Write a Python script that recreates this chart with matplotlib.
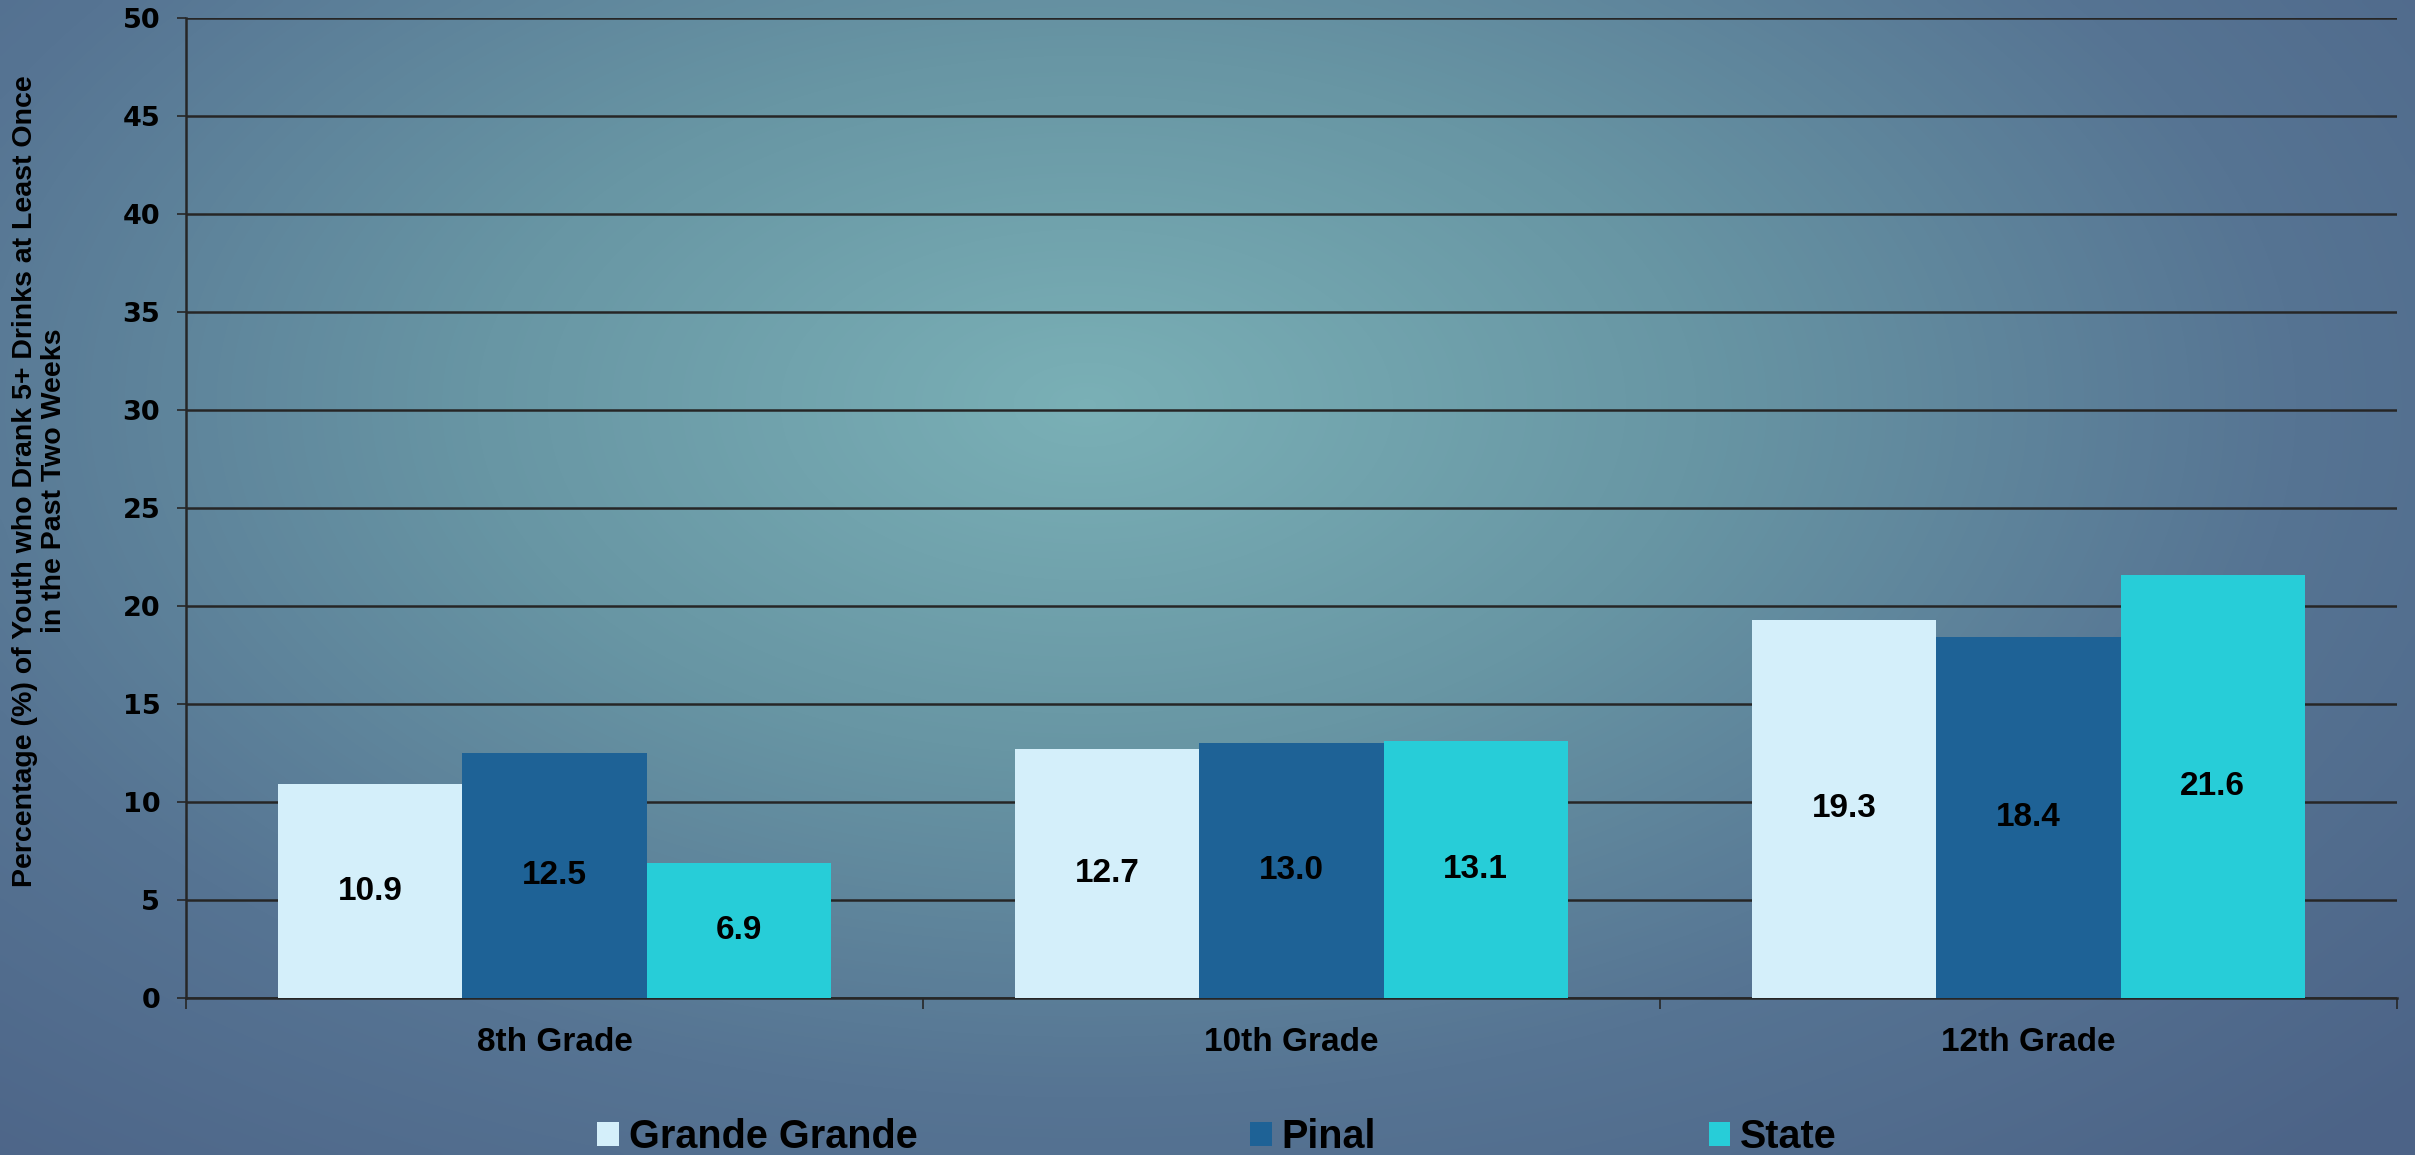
import numpy as np
import matplotlib
matplotlib.use("Agg")
import matplotlib.pyplot as plt
from matplotlib.colors import LinearSegmentedColormap

# data
grades = ["8th Grade", "10th Grade", "12th Grade"]
series = ["Grande Grande", "Pinal", "State"]
grande = [10.9, 12.7, 19.3]
pinal = [12.5, 13.0, 18.4]
state = [6.9, 13.1, 21.6]
colors = ["#D4EFFA", "#1E6296", "#27CDD8"]
ylabel = "Percentage (%) of Youth who Drank 5+ Drinks at Least Once\nin the Past Two Weeks"

fig = plt.figure(figsize=(24.15, 11.55), dpi=100)

# radial background gradient
bg = fig.add_axes([0, 0, 1, 1], zorder=-10)
yy, xx = np.mgrid[0:1:300j, 0:1:600j]
d = np.sqrt(((xx - 0.45) / 0.75) ** 2 + ((yy - 0.35) / 0.9) ** 2)
d = np.clip(d, 0, 1)
cmap = LinearSegmentedColormap.from_list("bg", ["#7AB0B6", "#6896A4", "#567493", "#4C6387"])
bg.imshow(d, cmap=cmap, aspect="auto", extent=[0, 1, 1, 0], interpolation="bicubic")
bg.axis("off")

ax = fig.add_axes([0.077, 0.136, 0.9155, 0.848])
ax.patch.set_alpha(0)

x = np.arange(len(grades))
w = 0.25
lab_font = {"family": "Liberation Sans", "weight": "bold"}
for i, (vals, name) in enumerate(zip([grande, pinal, state], series)):
    bars = ax.bar(x + (i - 1) * w, vals, w, color=colors[i], label=name, zorder=3)
    for b, v in zip(bars, vals):
        ax.text(b.get_x() + b.get_width() / 2, v / 2, f"{v:.1f}", ha="center", va="center",
                fontsize=24, color="black", zorder=4, **lab_font)

ax.set_xlim(-0.5, 2.5)
ax.set_ylim(0, 50)
ax.set_yticks(range(0, 51, 5))
ax.yaxis.grid(True, color="#262626", lw=1.8)
ax.set_axisbelow(True)
for s in ["top", "right"]:
    ax.spines[s].set_visible(False)
for s in ["left", "bottom"]:
    ax.spines[s].set_color("#262626")
    ax.spines[s].set_linewidth(1.8)

ax.set_xticks([-0.5, 0.5, 1.5, 2.5])
ax.set_xticklabels([])
ax.tick_params(axis="x", which="major", length=8, width=1.2, color="#262626")
ax.set_xticks(x, minor=True)
ax.set_xticklabels(grades, minor=True, fontsize=24, **lab_font)
ax.tick_params(axis="x", which="minor", length=0, pad=21)
ax.tick_params(axis="y", length=6.5, width=1.2, color="#262626", pad=12, labelsize=19.5)
for t in ax.get_yticklabels():
    t.set_fontfamily("DejaVu Sans")
    t.set_fontweight("bold")

fig.text(40 / 2415, 1 - 481 / 1155, ylabel, rotation=90, ha="center", va="center",
         fontsize=20.5, multialignment="center", linespacing=1.15, **lab_font)

fig.legend(loc="center", bbox_to_anchor=(0.504, 0.0156), ncol=3, frameon=False,
           prop={"family": "Liberation Sans", "weight": "bold", "size": 28.5},
           handlelength=0.55, handleheight=0.55, handletextpad=0.25, columnspacing=8.4)

fig.savefig("out.png", dpi=100)
